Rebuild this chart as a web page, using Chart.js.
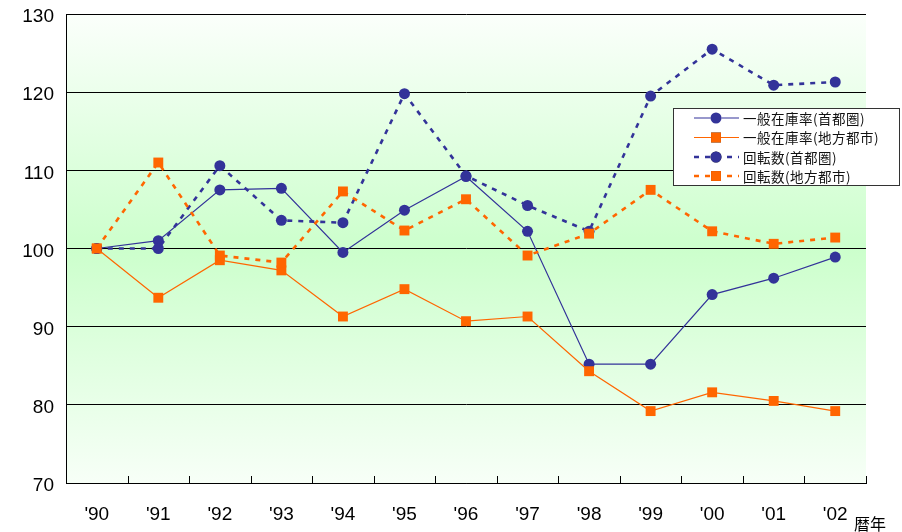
<!DOCTYPE html>
<html>
<head>
<meta charset="utf-8">
<script src="https://cdn.jsdelivr.net/npm/chart.js@4.4.0/dist/chart.umd.min.js"></script>
<style>
  html, body { margin: 0; padding: 0; background: #ffffff; }
  #wrap { width: 902px; height: 532px; position: relative; }
</style>
</head>
<body>
<div id="wrap"><canvas id="chart" width="902" height="532"></canvas></div>
<script>
// 暦年
const years = ["'90", "'91", "'92", "'93", "'94", "'95", "'96", "'97", "'98", "'99", "'00", "'01", "'02"];

// 一般在庫率・回転数（1990年 = 100）
const zaikoShuto  = [100, 101.0, 107.5, 107.7, 99.5, 104.9, 109.2, 102.2, 85.2, 85.2, 94.1, 96.2, 98.9];
const zaikoChiho  = [100, 93.7, 98.5, 97.2, 91.3, 94.8, 90.7, 91.3, 84.3, 79.2, 81.6, 80.5, 79.2];
const kaitenShuto = [100, 100.0, 110.6, 103.6, 103.3, 119.8, 109.3, 105.5, 102.2, 119.5, 125.5, 120.9, 121.3];
const kaitenChiho = [100, 111.0, 99.1, 98.2, 107.3, 102.3, 106.3, 99.1, 101.9, 107.5, 102.2, 100.6, 101.4];

const seriesNames = ["一般在庫率(首都圏)", "一般在庫率(地方都市)", "回転数(首都圏)", "回転数(地方都市)"];
const yTicks = [70, 80, 90, 100, 110, 120, 130];

const BLUE = '#333399';
const ORANGE = '#FF6600';
const NUM_FONT = '"Liberation Sans", Arial, sans-serif';
const JP_FONT = '"Noto Sans CJK JP", "Noto Sans", sans-serif';

// Plot background: white fading to pale green in the middle and back
const plotBackground = {
  id: 'plotBackground',
  beforeDraw(chart) {
    const { ctx, chartArea: a } = chart;
    ctx.save();
    ctx.fillStyle = '#ffffff';
    ctx.fillRect(0, 0, chart.width, chart.height);
    const g = ctx.createLinearGradient(0, a.top, 0, a.bottom);
    g.addColorStop(0, '#fbfffb');
    g.addColorStop(0.5, '#ccffcc');
    g.addColorStop(1, '#f7fff7');
    ctx.fillStyle = g;
    ctx.fillRect(a.left, a.top, a.right - a.left, a.bottom - a.top);
    ctx.restore();
  }
};

// Short category separators rising from the x axis, plus the axis caption
const axisExtras = {
  id: 'axisExtras',
  afterDraw(chart) {
    const { ctx, chartArea: a, scales: { x } } = chart;
    ctx.save();
    ctx.strokeStyle = '#000000';
    ctx.lineWidth = 1;
    const step = x.getPixelForValue(1) - x.getPixelForValue(0);
    for (let i = 0; i < years.length; i++) {
      const px = Math.round(x.getPixelForValue(i) + step / 2) + 0.5;
      ctx.beginPath();
      ctx.moveTo(px, a.bottom);
      ctx.lineTo(px, a.bottom - 7);
      ctx.stroke();
    }
    ctx.fillStyle = '#000000';
    ctx.font = '16px ' + JP_FONT;
    ctx.textAlign = 'center';
    ctx.textBaseline = 'middle';
    ctx.fillText('暦年', 870, 524);
    ctx.restore();
  }
};

// Boxed legend in the upper right
const boxLegend = {
  id: 'boxLegend',
  afterDraw(chart) {
    const { ctx } = chart;
    const box = { x: 673.5, y: 108.5, w: 226, h: 77 };
    ctx.save();
    ctx.fillStyle = '#ffffff';
    ctx.fillRect(box.x, box.y, box.w, box.h);
    ctx.strokeStyle = '#333333';
    ctx.lineWidth = 1;
    ctx.strokeRect(box.x, box.y, box.w, box.h);

    const rows = [118, 137.5, 157, 176];
    chart.data.datasets.forEach((ds, i) => {
      const y = rows[i];
      ctx.save();
      ctx.strokeStyle = ds.borderColor;
      ctx.lineWidth = ds.borderWidth;
      ctx.setLineDash(ds.borderDash || []);
      ctx.beginPath();
      ctx.moveTo(694, y);
      ctx.lineTo(739, y);
      ctx.stroke();
      ctx.restore();
      Chart.helpers.drawPoint(ctx, {
        pointStyle: ds.pointStyle,
        radius: ds.pointRadius,
        borderWidth: 0
      }, 716, y);
      ctx.fillStyle = ds.pointBackgroundColor;
      ctx.fill();

      ctx.fillStyle = '#111111';
      ctx.font = '13.5px ' + JP_FONT;
      ctx.letterSpacing = '0.5px';
      ctx.textAlign = 'left';
      ctx.textBaseline = 'middle';
      ctx.fillText(ds.label, 743, y + 0.5);
    });
    ctx.restore();
  }
};

function lineSet(label, data, color, dashed, style, order) {
  return {
    label, data, order,
    borderColor: color,
    borderWidth: dashed ? 2.6 : 1.2,
    borderDash: dashed ? [5, 6] : [],
    pointStyle: style,
    pointRadius: style === 'rect' ? 7 : 5.5,
    pointBackgroundColor: color,
    pointBorderColor: color,
    pointBorderWidth: 0,
    tension: 0,
    fill: false
  };
}

new Chart(document.getElementById('chart'), {
  type: 'line',
  data: {
    labels: years,
    datasets: [
      lineSet(seriesNames[0], zaikoShuto, BLUE, false, 'circle', 4),
      lineSet(seriesNames[1], zaikoChiho, ORANGE, false, 'rect', 3),
      lineSet(seriesNames[2], kaitenShuto, BLUE, true, 'circle', 2),
      lineSet(seriesNames[3], kaitenChiho, ORANGE, true, 'rect', 1)
    ]
  },
  options: {
    responsive: false,
    animation: false,
    devicePixelRatio: 1,
    events: [],
    layout: { padding: { top: 14, right: 36, left: 0, bottom: 0 } },
    plugins: {
      legend: { display: false },
      tooltip: { enabled: false }
    },
    scales: {
      x: {
        type: 'category',
        offset: true,
        grid: { display: false, drawTicks: false, tickLength: 0 },
        border: { display: true, color: '#000000', width: 1 },
        ticks: {
          color: '#000000',
          font: { family: NUM_FONT, size: 19 },
          padding: 20,
          maxRotation: 0,
          autoSkip: false
        },
        afterFit(scale) { scale.height = 49; }
      },
      y: {
        min: 70,
        max: 130,
        afterBuildTicks(scale) { scale.ticks = yTicks.map(v => ({ value: v })); },
        grid: { color: '#000000', lineWidth: 1, drawTicks: false, tickLength: 0 },
        border: { display: true, color: '#000000', width: 1 },
        ticks: {
          color: '#000000',
          font: { family: NUM_FONT, size: 19 },
          padding: 12,
          labelOffset: 3
        },
        afterFit(scale) {
          scale.width = 66;
          scale.paddingTop = 0;
          scale.paddingBottom = 0;
        }
      }
    }
  },
  plugins: [plotBackground, axisExtras, boxLegend]
});
</script>
</body>
</html>
